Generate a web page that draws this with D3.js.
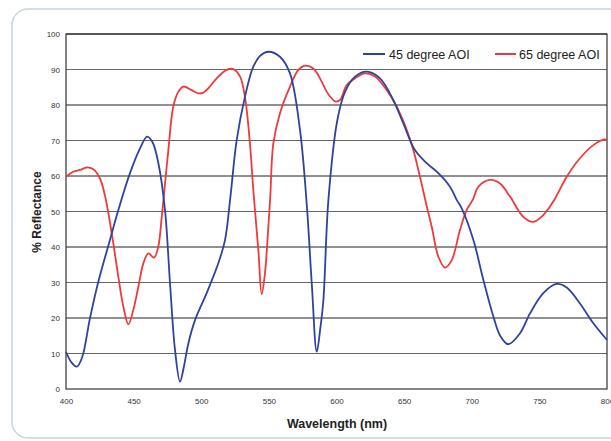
<!DOCTYPE html>
<html><head><meta charset="utf-8">
<script src="https://cdn.jsdelivr.net/npm/d3@7"></script>
<style>body{margin:0;background:#fff}svg{display:block}</style>
</head><body>
<svg id="chart" width="611" height="441"></svg>
<script>
const wl45 = [400,404,408,412,417.7,423.9,432.5,438.7,447.3,455,460,464,468.3,473.2,476.9,480.6,484.3,487,490.5,495.4,504,512.6,517.6,521.3,526.2,532.3,538.5,544,549.6,558.2,565.6,573,578,581.7,585.4,588,590.3,594,600.5,606.3,613.7,622.3,632.2,642,649.4,658,666.7,675.3,683.9,689,692.6,701.2,708.6,716,721,727,735.7,743.1,752.9,762.8,770.2,780,789.9,800];
const r45 = [10.5,7.5,6.3,9,19.9,30.2,42,50.4,60.8,68,71.1,69.5,63.6,50.4,29.8,11,2.1,6,12.9,19.4,27,35.4,42,53.2,70.1,82.3,90.8,94,95,93.6,88.9,73,52,29.8,10.5,17,25,53.2,75.5,83.7,88,89.4,87.5,81.4,74.8,67.3,63.6,60.8,57,53.2,50.9,42,30.7,20.4,15,12.6,15.7,21.3,27,29.6,28.6,24.1,18.5,13.8];
const wl65 = [400,405.4,410.4,415.3,420.2,425.1,428.8,433.8,438.7,442.4,446.1,449.8,453.5,457.2,460.9,465.1,468.2,470.8,472.5,475.6,479.3,483,486.7,492.9,497.8,501.5,505.2,511.4,518.8,523.7,528.7,532.3,536,538.5,542.2,544.7,547.1,549.6,551,553.3,558.2,565.6,571.8,576.7,582.9,587.8,592.8,596.4,599,602.6,607.5,613.7,621.1,628.5,637.1,644.5,651.9,656.8,661.7,666.7,670.4,675.3,680.2,685.2,691.3,696.2,701,704.9,713.5,720.9,728.3,738.1,745.5,752.9,760.3,770.2,780,789.9,798.5,800];
const r65 = [59.8,61.2,61.7,62.4,61.9,59.3,54.5,43.9,31.6,23.2,18.2,22.3,28.8,35.4,38.2,37,40.1,48.5,55,67,79.5,83.7,85.2,84.2,83.3,83.5,84.7,87.5,89.9,90.1,88,82.3,69.2,56,39.2,26.7,32.6,45.7,54,69.2,77.7,85.2,89.9,91.1,90.3,87.5,83.7,81.9,81,81.4,85.6,87.5,88.9,88,84.2,79.5,73,67.3,59.8,51.5,45.7,37.3,34.2,36.3,44.8,50.4,53.5,57,58.9,57.9,54.2,48.5,47.1,49,52.8,59.8,65,68.7,70.3,70];
const xTicks = [400,450,500,550,600,650,700,750,800];
const yTicks = [0,10,20,30,40,50,60,70,80,90,100];
const seriesNames = ["45 degree AOI","65 degree AOI"];
const colors = ["#2e43a0","#f03a3a"];

const svg = d3.select("#chart");
const font = "'Liberation Sans', Arial, sans-serif";
svg.append("rect").attr("x",12).attr("y",9).attr("width",640).attr("height",429)
  .attr("rx",16).attr("fill","#fff").attr("stroke","#c8d4dc").attr("stroke-width",1.5);

const x = d3.scaleLinear().domain([400,800]).range([66,607]);
const y = d3.scaleLinear().domain([0,100]).range([389,34]);

svg.append("g").selectAll("line").data(yTicks.filter(d=>d>0)).join("line")
  .attr("x1",x(400)).attr("x2",x(800)).attr("y1",d=>y(d)).attr("y2",d=>y(d))
  .attr("stroke",(d,i)=>i%2===0?"#666":"#222").attr("stroke-width",1);
svg.append("rect").attr("x",x(400)).attr("y",y(100)).attr("width",x(800)-x(400)).attr("height",y(0)-y(100))
  .attr("fill","none").attr("stroke","#333").attr("stroke-width",1.2);

const yAxis = d3.axisLeft(y).tickValues(yTicks).tickSize(0).tickPadding(6);
const gy = svg.append("g").attr("transform",`translate(${x(400)},0)`).call(yAxis);
gy.select(".domain").remove();
gy.selectAll("text").attr("font-family",font).attr("font-size",8).attr("fill","#333");

const xAxis = d3.axisBottom(x).tickValues(xTicks).tickSize(0).tickPadding(9);
const gx = svg.append("g").attr("transform",`translate(0,${y(0)})`).call(xAxis);
gx.select(".domain").remove();
gx.selectAll("text").attr("font-family",font).attr("font-size",8).attr("fill","#333");

const line = d3.line().curve(d3.curveCatmullRom.alpha(0.5));
const s45 = wl45.map((w,i)=>[x(w),y(r45[i])]);
const s65 = wl65.map((w,i)=>[x(w),y(r65[i])]);
svg.append("path").attr("d",line(s65)).attr("fill","none").attr("stroke",colors[1]).attr("stroke-width",1.8);
svg.append("path").attr("d",line(s45)).attr("fill","none").attr("stroke",colors[0]).attr("stroke-width",1.8);

const leg = [{x1:363,x2:385,tx:389},{x1:495,x2:516,tx:519}];
leg.forEach((l,i)=>{
  svg.append("line").attr("x1",l.x1).attr("x2",l.x2).attr("y1",54).attr("y2",54).attr("stroke",colors[i]).attr("stroke-width",2);
  svg.append("text").attr("x",l.tx).attr("y",58.5).attr("font-family",font).attr("font-size",12.5).attr("fill","#222").text(seriesNames[i]);
});

svg.append("text").attr("transform","translate(41,212) rotate(-90)").attr("text-anchor","middle")
  .attr("font-family",font).attr("font-size",12).attr("font-weight","bold").attr("fill","#222").text("% Reflectance");
svg.append("text").attr("x",337).attr("y",428).attr("text-anchor","middle")
  .attr("font-family",font).attr("font-size",12.5).attr("font-weight","bold").attr("fill","#222").text("Wavelength (nm)");
</script>
</body></html>
